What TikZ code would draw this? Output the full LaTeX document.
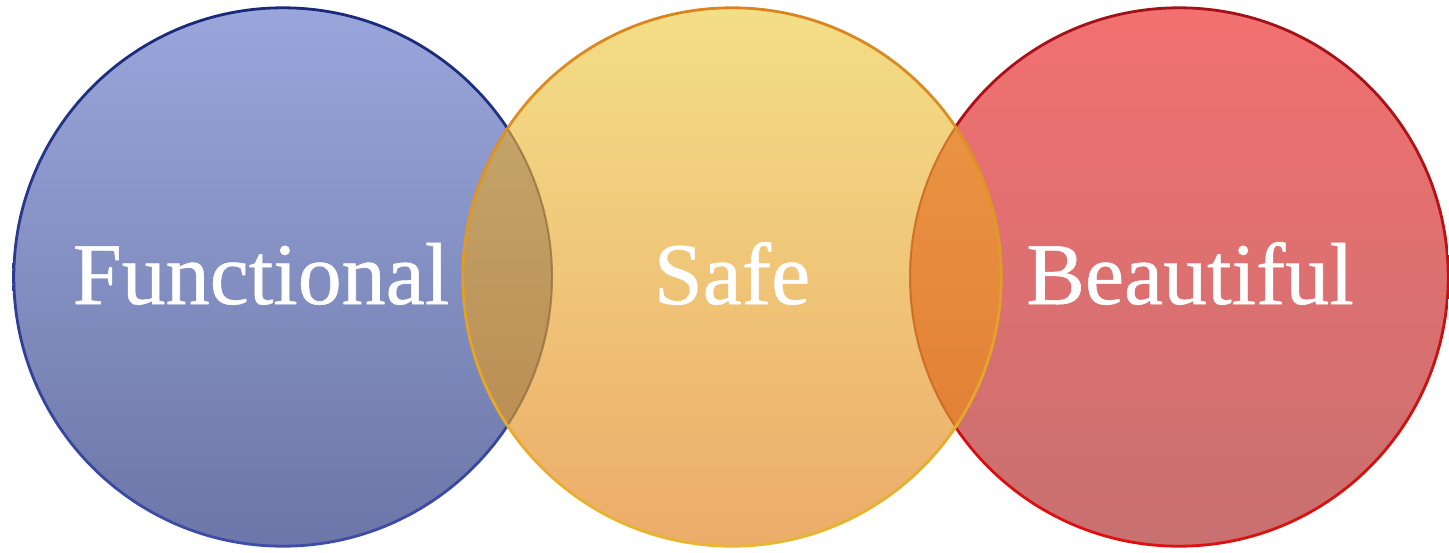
\documentclass[tikz,border=0pt]{standalone}
\usepackage{fontspec}
\setmainfont{Liberation Serif}
\newfontfamily\lblfont{Liberation Serif}[FakeBold=0.6]
\usepackage{tikz}

\definecolor{funcTop}{HTML}{9AA6DB}
\definecolor{funcBot}{HTML}{6C76A8}
\definecolor{funcEdgeTop}{HTML}{1A2A7A}
\definecolor{funcEdgeBot}{HTML}{3E4EA8}
\definecolor{safeTop}{HTML}{F3DE86}
\definecolor{safeBot}{HTML}{ECAC6A}
\definecolor{safeEdgeTop}{HTML}{D9841E}
\definecolor{safeEdgeBot}{HTML}{E8B630}
\definecolor{beauTop}{HTML}{F27070}
\definecolor{beauBot}{HTML}{C87070}
\definecolor{beauEdgeTop}{HTML}{A01218}
\definecolor{beauEdgeBot}{HTML}{E01010}
\definecolor{lensLeftTop}{HTML}{C6AC70}
\definecolor{lensLeftBot}{HTML}{B8864E}
\definecolor{lensRightTop}{HTML}{EC9A48}
\definecolor{lensRightBot}{HTML}{E07A30}
\definecolor{lensLeftLine}{HTML}{8C6A3A}
\definecolor{lensRightLine}{HTML}{C8641E}

\begin{document}
\begin{tikzpicture}[x=0.5pt, y=-0.5pt,
    lbl/.style={text=white, font=\lblfont\fontsize{44}{44}\selectfont, inner sep=0pt, anchor=base},
    rad/.style={radius=134.5pt}]
    \useasboundingbox (0,0) rectangle (1449,552);
    \coordinate (fc) at (283,277);
    \coordinate (sc) at (732,277);
    \coordinate (bc) at (1179,277);

    \shade[top color=funcTop, bottom color=funcBot] (fc) circle[rad];
    \shade[top color=funcEdgeTop, bottom color=funcEdgeBot, even odd rule] (fc) circle[radius=135.3pt] (fc) circle[radius=133.9pt];
    \shade[top color=beauTop, bottom color=beauBot] (bc) circle[rad];
    \shade[top color=beauEdgeTop, bottom color=beauEdgeBot, even odd rule] (bc) circle[radius=135.3pt] (bc) circle[radius=133.9pt];
    \shade[top color=safeTop, bottom color=safeBot] (sc) circle[rad];

    \begin{scope}
        \clip (fc) circle[rad];
        \shade[top color=lensLeftTop, bottom color=lensLeftBot] (sc) circle[rad];
    \end{scope}
    \begin{scope}
        \clip (bc) circle[rad];
        \shade[top color=lensRightTop, bottom color=lensRightBot] (sc) circle[rad];
    \end{scope}
    \begin{scope}
        \clip (sc) circle[rad];
        \draw[lensLeftLine, line width=1pt, opacity=0.7] (fc) circle[rad];
        \draw[lensRightLine, line width=1pt, opacity=0.8] (bc) circle[rad];
    \end{scope}
    \shade[top color=safeEdgeTop, bottom color=safeEdgeBot, even odd rule] (sc) circle[radius=135.3pt] (sc) circle[radius=133.9pt];

    \node[lbl] (func) at (261,304) {Functional};
    \node[lbl] (safe) at (732,304) {Safe};
    \node[lbl] (beau) at (1190,304) {Beautiful};
\end{tikzpicture}
\end{document}
